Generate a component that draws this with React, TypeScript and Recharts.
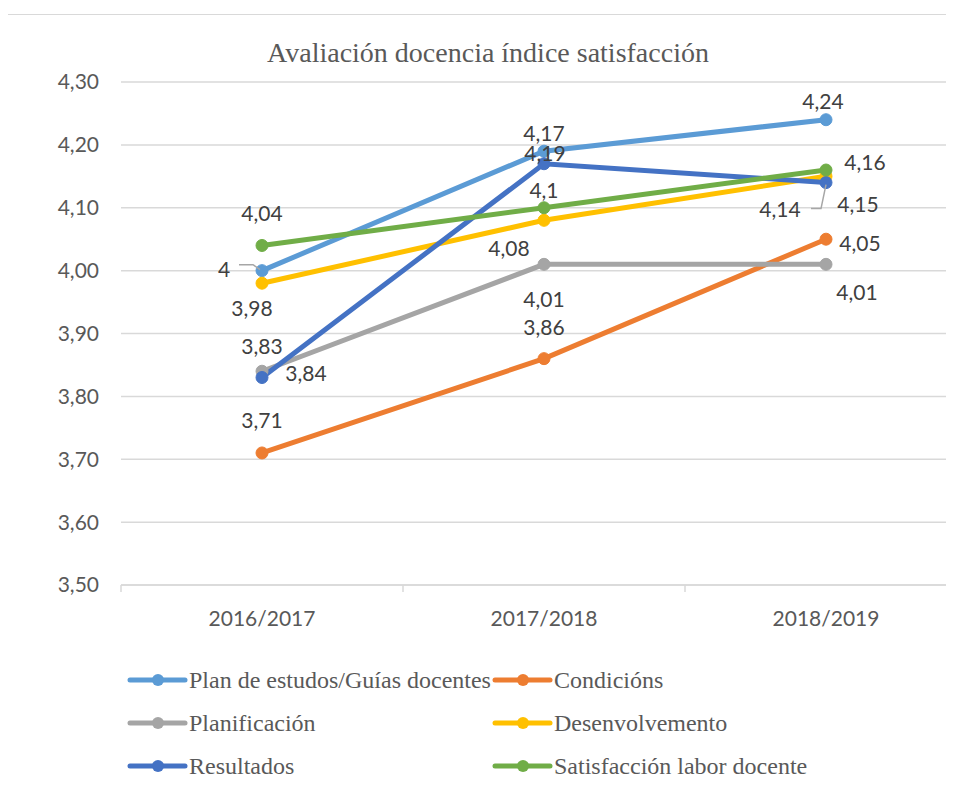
import {CartesianGrid, LabelList, Line, LineChart, XAxis, YAxis} from 'recharts'

const years = ['2016/2017', '2017/2018', '2018/2019']
const planEstudos = [4.0, 4.19, 4.24]
const condicions = [3.71, 3.86, 4.05]
const planificacion = [3.84, 4.01, 4.01]
const desenvolvemento = [3.98, 4.08, 4.15]
const resultados = [3.83, 4.17, 4.14]
const satisfaccion = [4.04, 4.1, 4.16]
const yTicks = [3.5, 3.6, 3.7, 3.8, 3.9, 4.0, 4.1, 4.2, 4.3]

const series = [
  {key: 'plan', name: 'Plan de estudos/Guías docentes', values: planEstudos, color: '#5B9BD5'},
  {key: 'cond', name: 'Condicións', values: condicions, color: '#ED7D31'},
  {key: 'planif', name: 'Planificación', values: planificacion, color: '#A5A5A5'},
  {key: 'desen', name: 'Desenvolvemento', values: desenvolvemento, color: '#FFC000'},
  {key: 'result', name: 'Resultados', values: resultados, color: '#4472C4'},
  {key: 'satis', name: 'Satisfacción labor docente', values: satisfaccion, color: '#70AD47'}
]

const data = years.map((year, i) => {
  const row: Record<string, string | number> = {year}
  series.forEach((s) => (row[s.key] = s.values[i]))
  return row
})

// where each data label sits relative to its point (Excel placed them by hand)
const labelOffsets: Record<string, [number, number][]> = {
  plan: [[-38, -2], [1, 1], [-3, -19]],
  cond: [[0, -33], [0, -32], [34, 3]],
  planif: [[44, 1], [0, 34], [31, 27]],
  desen: [[-10, 24], [-35, 27], [32, 27]],
  result: [[0, -32], [0, -31], [-46, 26]],
  satis: [[0, -33], [0, -18], [39, -9]]
}

const leaderLines: Record<string, Record<number, [number, number][]>> = {
  plan: {0: [[-23, -6], [-9, -6], [-2, -1]]},
  result: {2: [[-15, 26], [-5, 26], [0, 2]]}
}

const SERIF = "'Liberation Serif', 'Times New Roman', 'DejaVu Serif', serif"
const SANS = "Lato, 'Open Sans', sans-serif"

const W = 980
const H = 791
const PLOT_LEFT = 121
const PLOT_RIGHT = 967
const BAND = (PLOT_RIGHT - PLOT_LEFT) / years.length
const AXIS_Y = 585

const fmt = (v: number) => String(v).replace('.', ',')

const makeLabel = (key: string) => (props: any) => {
  const {x, y, value, index} = props
  const [dx, dy] = labelOffsets[key][index]
  const leader = leaderLines[key]?.[index]
  return (
    <g>
      {leader && (
        <polyline
          points={leader.map(([lx, ly]) => `${x + lx},${y + ly}`).join(' ')}
          fill='none'
          stroke='#A6A6A6'
          strokeWidth={1.5}
        />
      )}
      <text
        x={x + dx}
        y={y + dy}
        textAnchor='middle'
        dominantBaseline='central'
        fontFamily={SANS}
        fontSize={21}
        fill='#404040'
      >
        {fmt(value)}
      </text>
    </g>
  )
}

const XTick = (props: any) => {
  const {x, payload, index} = props
  const left = x - BAND / 2
  return (
    <g>
      <line x1={left} y1={AXIS_Y} x2={left} y2={AXIS_Y + 7} stroke='#D9D9D9' strokeWidth={1.5} />
      {index === years.length - 1 && (
        <line x1={x + BAND / 2} y1={AXIS_Y} x2={x + BAND / 2} y2={AXIS_Y + 7} stroke='#D9D9D9' strokeWidth={1.5} />
      )}
      <text
        x={x}
        y={AXIS_Y + 32}
        textAnchor='middle'
        dominantBaseline='central'
        fontFamily={SANS}
        fontSize={21}
        fill='#595959'
      >
        {payload.value}
      </text>
    </g>
  )
}

const legendSpots = [
  [130, 680],
  [495, 680],
  [130, 723],
  [495, 723],
  [130, 766],
  [495, 766]
]

const App = () => {
  return (
    <div style={{position: 'relative', margin: -8, width: 954, height: 791, overflow: 'hidden', background: '#fff'}}>
      <div
        style={{position: 'absolute', left: 5, top: 14, width: 1000, height: 900, border: '1px solid #D9D9D9', boxSizing: 'border-box'}}
      />
      <div style={{position: 'absolute', left: 0, top: 0}}>
        <LineChart
          width={W}
          height={H}
          data={data}
          margin={{top: 82, right: W - PLOT_RIGHT, bottom: H - AXIS_Y - 30, left: 0}}
        >
          <CartesianGrid vertical={false} stroke='#D9D9D9' strokeWidth={1.5} />
          <XAxis
            dataKey='year'
            height={30}
            stroke='#D9D9D9'
            strokeWidth={1.5}
            tickLine={false}
            tickSize={0}
            tick={<XTick />}
            interval={0}
            padding={{left: BAND / 2, right: BAND / 2}}
          />
          <YAxis
            width={PLOT_LEFT}
            domain={[3.5, 4.3]}
            ticks={yTicks}
            axisLine={false}
            tickLine={false}
            tickSize={0}
            tickMargin={22}
            tickFormatter={(v: number) => v.toFixed(2).replace('.', ',')}
            tick={{fontFamily: SANS, fontSize: 21, fill: '#595959'}}
          />
          {series.map((s) => (
            <Line
              key={s.key}
              dataKey={s.key}
              name={s.name}
              stroke={s.color}
              strokeWidth={5}
              dot={{r: 6, fill: s.color, stroke: s.color, strokeWidth: 1}}
              activeDot={false}
              isAnimationActive={false}
            />
          ))}
          {/* invisible copies so the data labels sit above every line */}
          {series.map((s) => (
            <Line
              key={s.key + '-labels'}
              dataKey={s.key}
              stroke='none'
              dot={false}
              activeDot={false}
              legendType='none'
              isAnimationActive={false}
            >
              <LabelList dataKey={s.key} content={makeLabel(s.key)} />
            </Line>
          ))}
        </LineChart>
      </div>
      <svg width={954} height={791} style={{position: 'absolute', left: 0, top: 0, pointerEvents: 'none'}}>
        <text
          x={488}
          y={52}
          textAnchor='middle'
          dominantBaseline='central'
          fontFamily={SERIF}
          fontSize={28}
          fill='#595959'
        >
          Avaliación docencia índice satisfacción
        </text>
        {series.map((s, i) => {
          const [lx, ly] = legendSpots[i]
          return (
            <g key={s.key}>
              <line x1={lx} y1={ly} x2={lx + 55} y2={ly} stroke={s.color} strokeWidth={5} strokeLinecap='round' />
              <circle cx={lx + 28} cy={ly} r={6} fill={s.color} />
              <text
                x={lx + 59}
                y={ly}
                dominantBaseline='central'
                fontFamily={SERIF}
                fontSize={24}
                fill='#595959'
              >
                {s.name}
              </text>
            </g>
          )
        })}
      </svg>
    </div>
  )
}

export default App
